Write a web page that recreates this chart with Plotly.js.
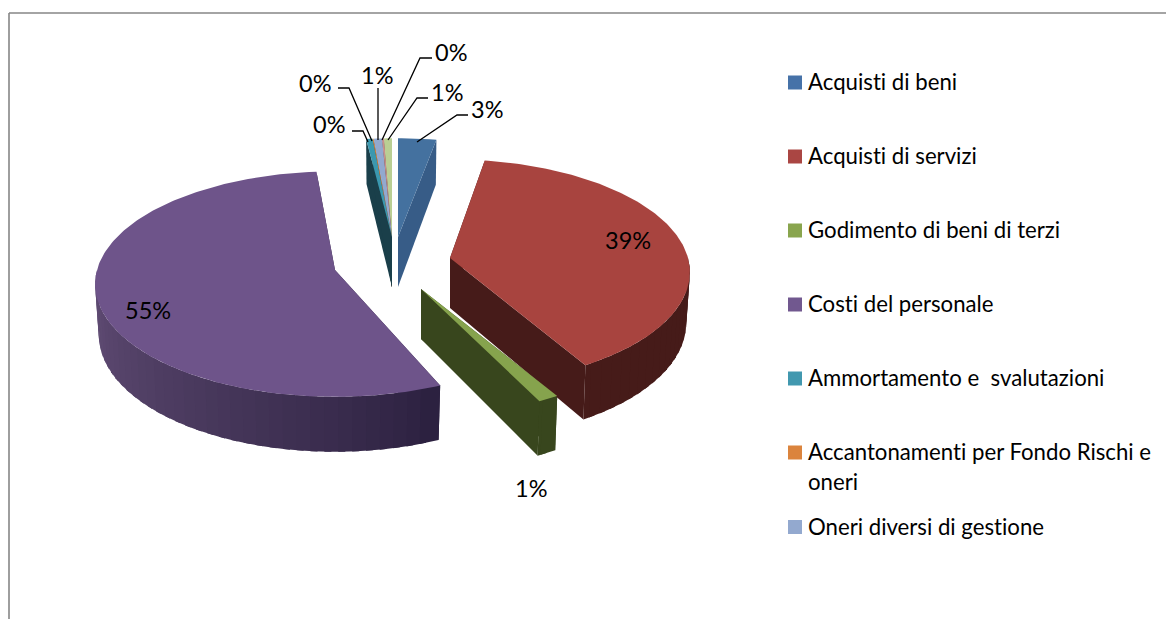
<!DOCTYPE html>
<html>
<head>
<meta charset="utf-8">
<script src="https://cdn.plot.ly/plotly-3.0.1.min.js"></script>
<style>html,body{margin:0;padding:0;background:#fff;overflow:hidden}#chart{width:1166px;height:619px}
svg text{font-variant-ligatures:none;font-feature-settings:"liga" 0}</style>
</head>
<body>
<div id="chart"></div>
<script>
// ---- data ----
const categories = ["Acquisti di beni", "Acquisti di servizi", "Godimento di beni di terzi", "Costi del personale",
  "Ammortamento e \u00a0svalutazioni", "Accantonamenti per Fondo Rischi e\noneri", "Oneri diversi di gestione", "", ""];
const values = [2.9, 38.9, 1.25, 55, 0.49, 0.08, 0.63, 0.15, 0.6];

// ---- style ----
const topColors  = ["#44719F", "#A8443F", "#86A34D", "#6E548A", "#3B98AF", "#E08A3E", "#92A9CF", "#C98F8C", "#BACF93"];
const wallColors = ["#375C87", "#461B19", "#38461D", "#2C2140", "#1A3F4A", "#5A3A1A", "#3F4A60", "#4E2F2C", "#4A5538"];
const swatchColors = ["#4672A8", "#AA4643", "#89A54E", "#71588F", "#4198AF", "#DB843D", "#93A9CF"];
const apexX = [398, 450, 421, 335, 392, 392, 392, 392, 392];
const apexY = [237, 258, 289, 270, 237, 237, 237, 237, 237];
const angleNudge = [0, -1, -1.2, 2, 0, 0, 0, 0, 0];
const legendY = [81.5, 155.5, 229.5, 303.5, 377.5, 451.5, 526];
const labelX = [487, 628, 531, 148, 329, 315, 377, 451, 447];
const labelY = [109, 240, 488, 310, 124, 83, 75, 52, 92];
const leaderStart = [[417,142],null,null,null,[368,142],[372,141],[378,140],[382,140],[388,140]];
const leaderElbow = [[457,115],null,null,null,[363,131],[349,88],[378,88],[420,58],[417,98]];
const leaderEnd   = [[468,115],null,null,null,[352,131],[338,88],[378,88],[432,58],[428,98]];
const FONT = "Lato, Carlito, Calibri, sans-serif";
const R = 238, RY = 111, K = 0.125, SHRINK = 0.985;

// ---- projection of a pie slice through a simple perspective ----
function proj(i, deg, r, bottom) {
  const a = deg * Math.PI / 180, u = r * Math.sin(a), v = -r * Math.cos(a);
  const s = 1 / (1 - K * v);
  let x = R * u * s, y = RY * v * s;
  if (bottom) { x *= SHRINK; y += 50 + 5 * v; }
  return [apexX[i] + x, apexY[i] + y];
}
function poly(pts, color, name) {
  return { type: "scatter", mode: "lines", x: pts.map(p => p[0]), y: pts.map(p => p[1]),
    fill: "toself", fillcolor: color, line: { color: color, width: 0 }, name: name,
    hoverinfo: "name", showlegend: false };
}
function mix(a, b, t) {
  const p = c => [1, 3, 5].map(k => parseInt(c.substr(k, 2), 16));
  const A = p(a), B = p(b);
  return "rgb(" + A.map((x, j) => Math.round(x + (B[j] - x) * t)).join(",") + ")";
}
const total = values.reduce((a, b) => a + b, 0);
const starts = []; let run = 0;
values.forEach((v, i) => { starts.push(run / total * 360 + angleNudge[i]); run += v; });

const wallTraces = [], topTraces = [];
for (let i = values.length - 1; i >= 0; i--) {
  const a0 = starts[i], a1 = a0 + values[i] / total * 360, name = categories[i].replace("\n", " ");
  // radial side walls
  [a0, a1].forEach(a => wallTraces.push(poly(
    [proj(i, 0, 0, false), proj(i, a, 1, false), proj(i, a, 1, true), proj(i, 0, 0, true), proj(i, 0, 0, false)],
    wallColors[i], name)));
  // outer rim, front half only; each strip runs under the next so no seams show
  const lo = Math.max(a0, 90), hi = Math.min(a1, 270);
  const n = Math.ceil((hi - lo) / 3);
  for (let k = n - 1; k >= 0 && hi > lo; k--) {
    const b0 = lo + (hi - lo) * k / n, b1 = Math.min(hi, lo + (hi - lo) * (k + 1) / n + 1.5);
    const c = i === 3 ? mix("#2C2140", "#655079", Math.pow((b0 - lo) / (hi - lo), 0.85)) : wallColors[i];
    wallTraces.push(poly([proj(i, b0, 1, false), proj(i, b1, 1, false), proj(i, b1, 1, true), proj(i, b0, 1, true), proj(i, b0, 1, false)], c, name));
  }
}
values.forEach((v, i) => {
  const a0 = starts[i], a1 = a0 + v / total * 360;
  const pts = [proj(i, 0, 0, false)];
  const n = Math.max(2, Math.ceil(a1 - a0));
  for (let k = 0; k <= n; k++) pts.push(proj(i, a0 + (a1 - a0) * k / n, 1, false));
  pts.push(proj(i, 0, 0, false));
  topTraces.push(poly(pts, topColors[i], categories[i].replace("\n", " ")));
});

// leader lines
const leaderTraces = [];
values.forEach((v, i) => {
  if (!leaderStart[i]) return;
  const p = [leaderStart[i], leaderElbow[i], leaderEnd[i]];
  leaderTraces.push({ type: "scatter", mode: "lines", x: p.map(q => q[0]), y: p.map(q => q[1]),
    line: { color: "#000", width: 1.3 }, hoverinfo: "skip", showlegend: false });
});

// legend squares
const legendNames = categories.filter(c => c);
const legendTrace = { type: "scatter", mode: "markers", x: legendNames.map(() => 795), y: legendY.map(y => y + 1),
  marker: { symbol: "square", size: 14, color: swatchColors, line: { width: 0 } },
  text: legendNames, hoverinfo: "text", showlegend: false };

const annotations = [];
values.forEach((v, i) => annotations.push({ x: labelX[i], y: labelY[i], xref: "x", yref: "y",
  text: Math.round(v) + "%", showarrow: false, xanchor: "center", yanchor: "middle",
  font: { family: FONT, size: 23.5, color: "#000" } }));
legendNames.forEach((c, i) => c.split("\n").forEach((line, j) => annotations.push({
  x: 806, y: legendY[i] + j * 30, xref: "x", yref: "y", text: line, showarrow: false,
  xanchor: "left", yanchor: "middle", font: { family: FONT, size: 22.2, color: "#000" } })));

const hidden = { visible: false, fixedrange: true };
Plotly.newPlot("chart", [...wallTraces, ...topTraces, ...leaderTraces, legendTrace], {
  width: 1166, height: 619, margin: { l: 0, r: 0, t: 0, b: 0 },
  paper_bgcolor: "#fff", plot_bgcolor: "#fff", showlegend: false,
  xaxis: { ...hidden, range: [0, 1166] }, yaxis: { ...hidden, range: [619, 0] },
  annotations: annotations,
  shapes: [
    { type: "line", xref: "x", yref: "y", x0: 9, y0: 13, x1: 1166, y1: 13, line: { color: "#868686", width: 1.6 } },
    { type: "line", xref: "x", yref: "y", x0: 9, y0: 13, x1: 9, y1: 619, line: { color: "#868686", width: 1.6 } }
  ]
}, { displayModeBar: false });
</script>
</body>
</html>
